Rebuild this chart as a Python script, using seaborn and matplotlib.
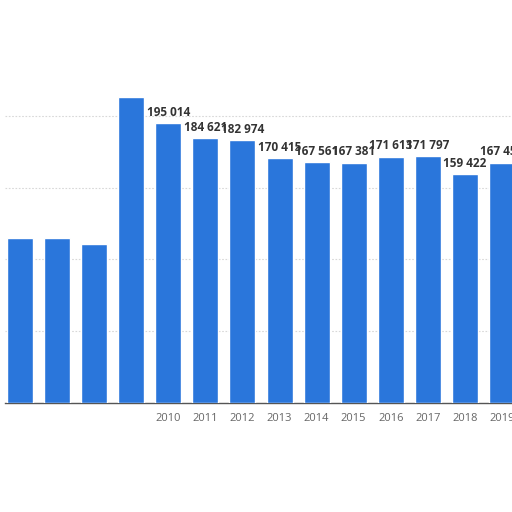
import matplotlib
matplotlib.use("Agg")
import matplotlib.pyplot as plt
import seaborn as sns
import pandas as pd

years = ["2006", "2007", "2008", "2009", "2010", "2011", "2012", "2013",
         "2014", "2015", "2016", "2017", "2018", "2019"]
values = [115000, 115000, 110700, 213000, 195014, 184621, 182974, 170415,
          167561, 167381, 171613, 171797, 159422, 167454]
tick_labels = ["", "", "", "", "2010", "2011", "2012", "2013", "2014",
               "2015", "2016", "2017", "2018", "2019"]
value_labels = ["", "", "", "", "195 014", "184 621", "182 974", "170 415",
                "167 561", "167 381", "171 613", "171 797", "159 422", "167 454"]

sns.set_theme(style="white")
plt.rcParams['font.family'] = ['Open Sans', 'DejaVu Sans']

df = pd.DataFrame({"year": years, "value": values})

fig = plt.figure(figsize=(5.12, 5.12), dpi=100)
ax = fig.add_axes([5 / 512, 109 / 512, 1 - 5 / 512, (403 - 60) / 512])

sns.barplot(data=df, x="year", y="value", color="#2A76DB", saturation=1,
            width=0.70, ax=ax, zorder=3)

ax.set_ylim(0, 343 / 0.001436)
ax.set_xlim(-0.404, 13.27)
ax.set_yticks([50000, 100000, 150000, 200000])
ax.yaxis.grid(True, color="#d8d8d8", linestyle=(0, (1.5, 1.5)), linewidth=0.8, zorder=0)
ax.set_yticklabels([])
ax.tick_params(axis="y", length=0)
ax.set_xticks(range(len(years)))
ax.set_xticklabels(tick_labels, color="#666666", fontsize=8)
ax.tick_params(axis="x", length=0, pad=7)
ax.set_xlabel("")
ax.set_ylabel("")
for s in ["top", "right", "left"]:
    ax.spines[s].set_visible(False)
ax.spines["bottom"].set_color("#555555")
ax.spines["bottom"].set_linewidth(1.0)

for i, (v, lab) in enumerate(zip(values, value_labels)):
    if lab:
        ax.annotate(lab, (i, v), xytext=(0, 3), textcoords="offset points",
                    ha="center", va="bottom", fontsize=8.5, fontweight="bold",
                    color="#333333", zorder=5)

fig.savefig("out.png", dpi=100)
